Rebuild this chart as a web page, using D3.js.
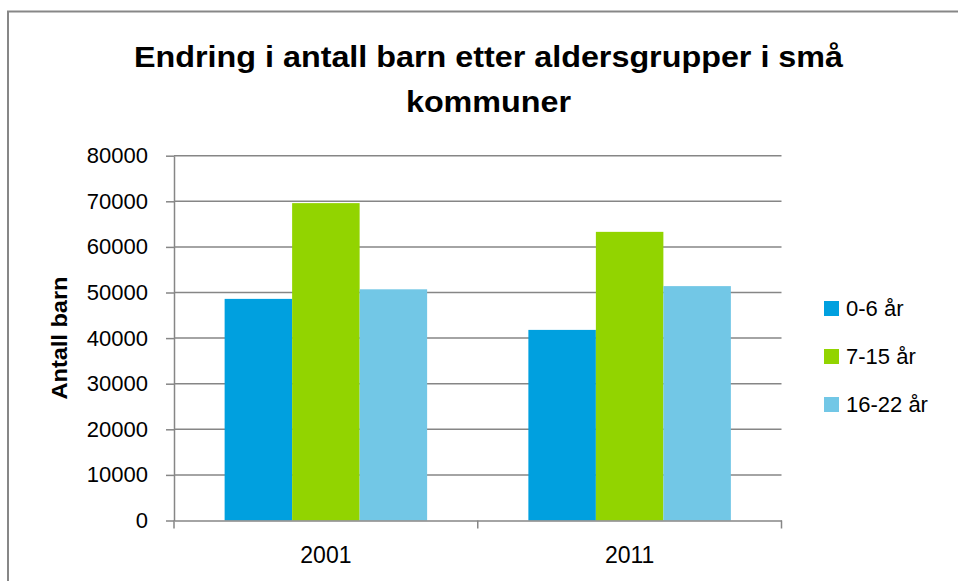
<!DOCTYPE html>
<html>
<head>
<meta charset="utf-8">
<script src="https://cdn.jsdelivr.net/npm/d3@7"></script>
<style>
  body { margin: 0; background: #fff; }
  svg { display: block; font-family: "Liberation Sans", Arial, sans-serif; }
</style>
</head>
<body>
<div id="plot"></div>
<script>
// data
var years = ["2001", "2011"];
var groups = ["0-6 år", "7-15 år", "16-22 år"];
var colors = ["#00a0df", "#92d400", "#72c7e6"];
var values2001 = [48600, 69600, 50700];
var values2011 = [41800, 63300, 51400];
var yTicks = [0, 10000, 20000, 30000, 40000, 50000, 60000, 70000, 80000];

var width = 958;
var height = 581;
var plotLeft = 174, plotRight = 781.5, plotTop = 155.7, plotBottom = 520.5;

var dataSet = [];
years.forEach(function(y, i) {
    var vals = i == 0 ? values2001 : values2011;
    groups.forEach(function(g, j) {
        dataSet.push({"year": y, "group": g, "value": vals[j]});
    });
});

var svg = d3.select("#plot").append("svg").attr("width", width).attr("height", height);

// outer chart border (runs off the right and bottom edge)
svg.append("path")
    .attr("d", "M8,600 L8,11.5 L970,11.5")
    .attr("fill", "none")
    .attr("stroke", "#878787")
    .attr("stroke-width", 2);

var x0 = d3.scaleBand()
    .domain(years)
    .range([plotLeft, plotRight])
    .paddingInner(1 / 3)
    .paddingOuter(1 / 6);

var x1 = d3.scaleBand()
    .domain(groups)
    .range([0, x0.bandwidth()]);

var yScale = d3.scaleLinear()
    .domain([0, 80000])
    .range([plotBottom, plotTop]);

var color = d3.scaleOrdinal().domain(groups).range(colors);

// gridlines
svg.append("g")
    .selectAll("line")
    .data(yTicks.slice(1))
    .enter()
    .append("line")
    .attr("x1", plotLeft)
    .attr("x2", plotRight)
    .attr("y1", function(d) { return yScale(d); })
    .attr("y2", function(d) { return yScale(d); })
    .attr("stroke", "#868686")
    .attr("stroke-width", 1.5);

// bars
svg.append("g")
    .selectAll("rect")
    .data(dataSet)
    .enter()
    .append("rect")
    .attr("x", function(d) { return x0(d.year) + x1(d.group); })
    .attr("y", function(d) { return yScale(d.value); })
    .attr("width", x1.bandwidth())
    .attr("height", function(d) { return plotBottom - yScale(d.value); })
    .attr("fill", function(d) { return color(d.group); });

// y axis
var yAxis = svg.append("g")
    .attr("transform", "translate(" + plotLeft + ",0)")
    .call(d3.axisLeft(yScale).tickValues(yTicks).tickFormat(d3.format("d")).tickSize(8).tickPadding(18).tickSizeOuter(0));
yAxis.selectAll("text")
    .attr("font-size", 22)
    .attr("font-family", "Liberation Sans, Arial, sans-serif")
    .attr("fill", "#000");

// x axis
var xAxis = svg.append("g")
    .attr("transform", "translate(0," + plotBottom + ")")
    .call(d3.axisBottom(x0).tickSize(0).tickPadding(26));
xAxis.selectAll("text")
    .attr("font-size", 23)
    .attr("font-family", "Liberation Sans, Arial, sans-serif")
    .attr("fill", "#000");
// category separator ticks
var sepTicks = [plotLeft, x0(years[1]) - x0.step() * x0.paddingInner() / 2, plotRight];
xAxis.selectAll(".sep")
    .data(sepTicks)
    .enter()
    .append("line")
    .attr("class", "sep")
    .attr("x1", function(d) { return d; })
    .attr("x2", function(d) { return d; })
    .attr("y1", 0)
    .attr("y2", 8);

svg.selectAll(".domain, .tick line, .sep")
    .attr("stroke", "#868686")
    .attr("stroke-width", 1.5);

// title
var title = svg.append("text")
    .attr("text-anchor", "middle")
    .attr("font-weight", "bold")
    .attr("font-size", 30)
    .attr("fill", "#000");
title.append("tspan").attr("x", 488.5).attr("y", 67).text("Endring i antall barn etter aldersgrupper i små");
title.append("tspan").attr("x", 488.5).attr("y", 112).text("kommuner");

// squeeze title lines a little, like the narrow original font
var t1 = title.select("tspan").node();
var ratio = 709 / t1.getComputedTextLength();
title.selectAll("tspan").each(function() {
    var w = this.getComputedTextLength();
    d3.select(this).attr("textLength", w * ratio).attr("lengthAdjust", "spacingAndGlyphs");
});

// y axis title
svg.append("text")
    .attr("transform", "translate(67,338) rotate(-90)")
    .attr("text-anchor", "middle")
    .attr("font-weight", "bold")
    .attr("font-size", 22)
    .attr("textLength", 123)
    .attr("lengthAdjust", "spacingAndGlyphs")
    .attr("fill", "#000")
    .text("Antall barn");

// legend
var legend = svg.append("g")
    .selectAll("g")
    .data(groups)
    .enter()
    .append("g")
    .attr("transform", function(d, i) { return "translate(824," + (301 + i * 48) + ")"; });
legend.append("rect")
    .attr("width", 15)
    .attr("height", 15)
    .attr("fill", function(d) { return color(d); });
legend.append("text")
    .attr("x", 22)
    .attr("y", 15)
    .attr("font-size", 22)
    .attr("fill", "#000")
    .text(function(d) { return d; });
</script>
</body>
</html>
